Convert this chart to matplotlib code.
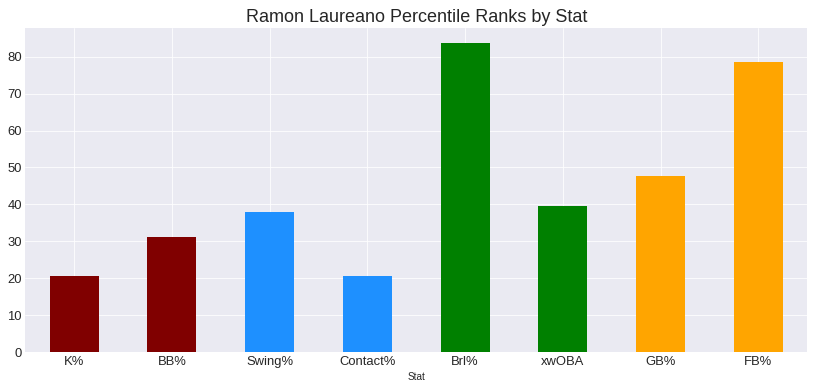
import numpy as np
import matplotlib
matplotlib.use('Agg')
import matplotlib.pyplot as plt
from matplotlib.ticker import MultipleLocator

## data
stats   = ['K%', 'BB%', 'Swing%', 'Contact%', 'Brl%', 'xwOBA', 'GB%', 'FB%']
pctiles = [20.5, 31.3, 38.0, 20.5, 83.6, 39.6, 47.7, 78.7]
colors  = ['maroon', 'maroon', 'dodgerblue', 'dodgerblue', 'green', 'green', 'orange', 'orange']

plt.style.use('seaborn-v0_8-darkgrid')
plt.rcParams['font.family'] = ['Liberation Sans', 'DejaVu Sans']

dpi = 72
fig, ax = plt.subplots(figsize=(813 / dpi, 389 / dpi), dpi=dpi)
plt.subplots_adjust(left=0.031, right=0.993, bottom=0.095, top=0.928)

x = np.arange(len(stats))
ax.bar(x, pctiles, width=0.5, color=colors)
ax.set_xticks(x)
ax.set_xticklabels(stats, fontsize=13)
ax.yaxis.set_major_locator(MultipleLocator(10))
ax.tick_params('y', labelsize=13)
ax.set_xlim(-0.5, len(stats) - 0.5)
ax.set_xlabel('Stat', fontsize=10, labelpad=4)
ax.set_title('Ramon Laureano Percentile Ranks by Stat', fontsize=18, pad=6)

plt.savefig('out.png', dpi=dpi)
plt.close(fig)
